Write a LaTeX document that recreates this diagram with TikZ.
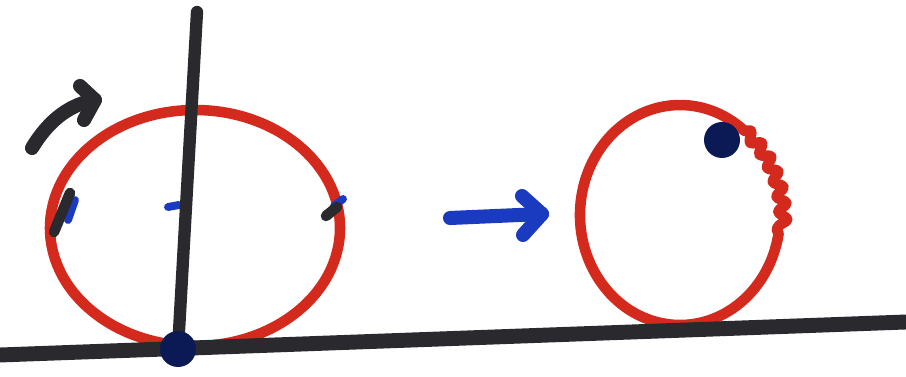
\documentclass[tikz,border=0pt]{standalone}
\usepackage{tikz}
\usetikzlibrary{arrows.meta,decorations.pathmorphing}
\definecolor{pen}{HTML}{2A2A2E}
\definecolor{rd}{HTML}{D42A1E}
\definecolor{bl}{HTML}{1A3AC0}
\definecolor{nv}{HTML}{0B1A55}

\begin{document}
\begin{tikzpicture}[x=0.02cm,y=-0.02cm,line cap=round,line join=round,
  ground/.style={draw=pen,line width=8.5pt},
  rim/.style={draw=rd,line width=6pt},
  spoke/.style={draw=pen,line width=7pt},
  tick/.style={draw=pen,line width=6pt},
  dab/.style={draw=bl,line width=4.5pt},
  dot/.style={fill=nv},
  turn/.style={draw=pen,line width=8pt},
  move/.style={draw=bl,line width=8pt},
  wiggle/.style={decorate,decoration={snake,amplitude=2.5pt,segment length=9pt}}]
  \useasboundingbox (0,0) rectangle (906,377);
  % wheels and points
  \coordinate (c1) at (195,228);
  \coordinate (c2) at (680,215);
  \coordinate (p1) at (178,349);
  \coordinate (p2) at (722,140);
  % left wheel
  \draw[rim] (c1) ellipse [x radius=145,y radius=118];
  \draw[dab] (75,200) -- (68,220);
  \draw[tick] (70,193) -- (54,232);
  \draw[dab] (334,206) -- (343,199);
  \draw[tick] (326,216) -- (337,207);
  \draw[dab] (168,207) -- (179,205);
  \draw[spoke] (197,12) -- (p1);
  % right wheel
  \draw[rim] (c2) ++(13:100 and 110) arc [start angle=13,end angle=302,x radius=100,y radius=110];
  \draw[rim,wiggle] (c2) ++(-50:100 and 110) arc [start angle=-50,end angle=13,x radius=100,y radius=110];
  \draw[rim] (c2) ++(-58:100 and 110) arc [start angle=-58,end angle=-50,x radius=100,y radius=110];
  % ground
  \draw[ground] (0,355) -- (906,322);
  \fill[dot] (p1) circle (18);
  \fill[dot] (p2) circle (18);
  % arrows
  \coordinate (r0) at (32,148);
  \coordinate (r1) at (95,100);
  \draw[turn] (r0) .. controls (50,118) and (72,104) .. (r1);
  \draw[turn] (80,86) -- (r1) -- (84,120);
  \coordinate (m0) at (450,218);
  \coordinate (m1) at (542,214);
  \draw[move] (m0) -- (m1);
  \draw[move] (522,196) -- (m1) -- (523,235);
\end{tikzpicture}
\end{document}
